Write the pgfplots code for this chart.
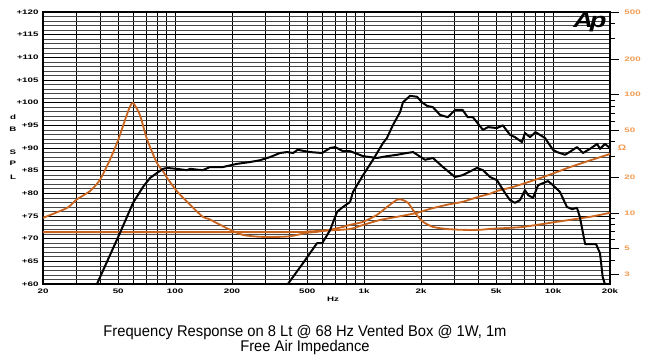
\documentclass[border=0pt]{standalone}
\usepackage{fontspec}
\setmainfont{Liberation Sans}
\usepackage{graphicx}
\usepackage{pgfplots}
\pgfplotsset{compat=1.18}
\definecolor{imp}{HTML}{C8641E}
\definecolor{rlab}{HTML}{F29A50}
\newcommand{\tl}[1]{\scalebox{1.5}[1]{\fontsize{6.5}{7}\selectfont\bfseries #1}}
\newcommand{\rl}[1]{\scalebox{1.5}[1]{\fontsize{6.5}{7}\selectfont\bfseries\color{rlab}#1}}

\pgfplotstableread{
f db
38.6 60
51 71.2
59.9 77.9
67.6 81.4
73.7 83.4
80.2 84.5
86.3 85.4
90.6 85.6
102 85.4
115.6 85.1
120 85.4
140 85.1
153 85.8
179 85.8
212 86.5
249 86.9
281 87.3
318 88.0
359 88.9
391 89.1
421 88.9
445 89.6
518 89.1
599 88.9
661 90.0
702 90.2
773 89.3
843 89.3
987 88.2
1170 87.8
1321 88.2
1493 88.5
1687 88.9
1816 89.1
2100 87.4
2313 87.8
2612 85.8
3026 83.6
3319 84.0
3955 85.6
4256 85.1
4633 83.6
5046 82.9
5240 81.8
5560 80.1
5916 78.5
6280 77.9
6680 78.5
7100 80.7
7380 79.6
7830 79.0
8330 81.8
9400 82.7
9980 81.8
10870 80.3
11830 77.0
12600 76.5
13370 76.8
13850 74.8
14770 68.8
16880 68.8
17700 66.8
18300 61.5
18800 60
}\splA

\pgfplotstableread{
f db
395 60
475 64.6
563 69.0
600 69.0
661 71.9
719 75.9
773 77.0
843 78.1
873 80.3
987 84.0
1114 87.4
1259 91.1
1320 92.2
1422 95.1
1549 97.9
1606 100.1
1750 101.5
1906 101.3
2020 100.1
2152 99.3
2313 99.0
2520 97.3
2770 96.8
3026 98.4
3319 98.4
3533 96.8
3760 96.8
4256 94.0
4520 94.6
5046 94.4
5420 95.0
5916 92.9
6280 92.4
6840 91.3
7100 93.3
7550 92.4
8070 93.5
9060 92.2
9980 89.6
10500 89.1
11560 88.5
12200 89.1
13370 90.2
14390 88.9
15650 89.8
17100 90.9
17700 89.8
18800 90.9
20000 90.0
}\splB

\pgfplotstableread{
f z
20 9.07
26.8 11.0
30 12.9
35.5 15.3
40 19.0
45.2 28.1
50 41.4
54.3 61
57.6 78.7
60 85
65.2 67
71 42
80 26.5
86.3 22.5
90.6 19.8
102 15.3
120 11.7
140 9.25
150 8.9
166 8.2
195 7.2
229 6.5
281 6.27
372 6.27
421 6.4
496 6.77
563 6.9
661 7.2
773 7.6
843 7.92
987 8.39
1170 9.61
1321 11.2
1493 12.9
1590 12.9
1711 12.1
1860 10.0
2050 8.4
2313 7.6
2740 7.3
3319 7.18
4050 7.18
4733 7.33
5916 7.47
6930 7.6
10500 8.4
15650 9.25
20000 10.0
}\impC

\pgfplotstableread{
f z
20 6.87
400 6.87
496 6.95
661 7.1
843 7.3
987 7.9
1213 8.7
1493 9.25
1906 10.0
2233 10.8
2740 11.7
3319 12.4
4050 13.7
4633 14.5
5046 15.3
5916 16.3
6930 17.6
8880 20.1
12780 24.9
20000 31.5
}\impD

\begin{document}
\begin{tikzpicture}[x=1pt,y=1pt]
\path[use as bounding box] (0,0) rectangle (661,361);
% grid and left axis
\begin{axis}[
  at={(43pt,77pt)}, anchor=south west,
  scale only axis, width=567pt, height=272pt,
  xmode=log, xmin=20, xmax=20000, ymin=60, ymax=120,
  xtick={20,30,40,50,60,70,80,90,100,200,300,400,500,600,700,800,900,1000,2000,3000,4000,5000,6000,7000,8000,9000,10000,20000},
  xticklabels={\tl{20},,,\tl{50},,,,,\tl{100},\tl{200},,,\tl{500},,,,,\tl{1k},\tl{2k},,,\tl{5k},,,,,\tl{10k},\tl{20k}},
  minor xtick={},
  ytick={60,65,...,120},
  yticklabels={\tl{+60},\tl{+65},\tl{+70},\tl{+75},\tl{+80},\tl{+85},\tl{+90},\tl{+95},\tl{+100},\tl{+105},\tl{+110},\tl{+115},\tl{+120}},
  minor y tick num=4,
  xmajorgrids, ymajorgrids, yminorgrids,
  major grid style={black, line width=0.6pt},
  minor grid style={black!72, line width=0.6pt},
  major tick length=0pt, minor tick length=0pt,
  axis line style={black, line width=1.2pt},
  xticklabel style={yshift=-1pt},
  yticklabel style={xshift=-1pt},
]
\end{axis}
% impedance axis
\begin{axis}[
  at={(43pt,77pt)}, anchor=south west,
  scale only axis, width=567pt, height=272pt,
  xmode=log, xmin=20, xmax=20000,
  ymode=log, ymin=2.5, ymax=500,
  axis x line=none, axis y line*=right,
  axis line style={black, line width=1.2pt},
  ytick={3,5,10,20,50,100,200,500},
  yticklabels={\rl{3},\rl{5},\rl{10},\rl{20},\rl{50},\rl{100},\rl{200},\rl{500}},
  minor ytick={4,6,7,8,9,30,40,60,70,80,90,300,400},
  tick align=outside,
  major tick length=9pt, minor tick length=5pt,
  tick style={black, line width=0.6pt},
  yticklabel style={anchor=west, xshift=2pt},
]
\addplot[imp, line width=1.8pt, smooth, tension=0.4] table[x=f, y=z] {\impD};
\addplot[imp, line width=1.8pt, smooth, tension=0.4] table[x=f, y=z] {\impC};
\end{axis}
% SPL curves
\begin{axis}[
  at={(43pt,77pt)}, anchor=south west,
  scale only axis, width=567pt, height=272pt,
  xmode=log, xmin=20, xmax=20000, ymin=60, ymax=120,
  hide axis,
]
\addplot[black, line width=2pt, line join=round] table[x=f, y=db] {\splA};
\addplot[black, line width=2pt, line join=round] table[x=f, y=db] {\splB};
\end{axis}
% labels
\node at (13,244) {\tl{d}};
\node at (13,232) {\tl{B}};
\node at (13,209) {\tl{S}};
\node at (13,198) {\tl{P}};
\node at (13,184) {\tl{L}};
\node[text=rlab] at (622,213) {\scalebox{1.3}[1]{\fontsize{8}{9}\selectfont\bfseries Ω}};
\node at (333,62) {\tl{Hz}};
\node[anchor=base] at (305,24) {\scalebox{0.95}[1]{\fontsize{15.5}{17}\selectfont Frequency Response on 8 Lt @ 68 Hz Vented Box @ 1W, 1m}};
\node[anchor=base] at (305,9) {\scalebox{0.95}[1]{\fontsize{15.5}{17}\selectfont Free Air Impedance}};
\node[anchor=base] at (590,333) {\scalebox{1.3}[1]{\fontsize{21}{22}\selectfont\bfseries\itshape A\kern-2.5pt p}};
\end{tikzpicture}
\end{document}
